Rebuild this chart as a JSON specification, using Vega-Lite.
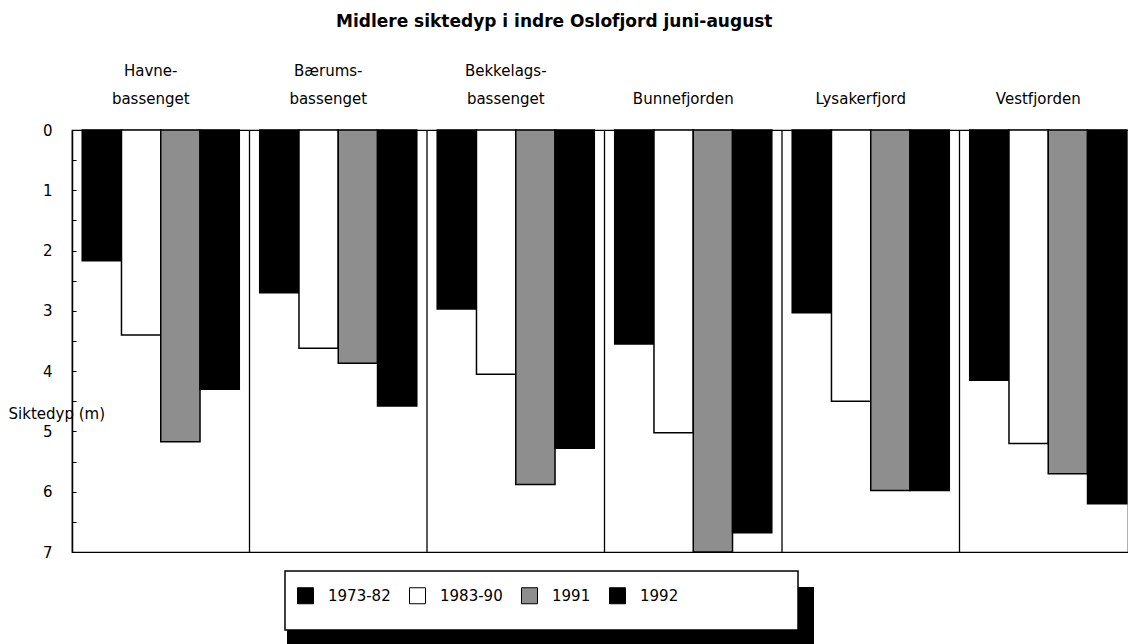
{
  "$schema": "https://vega.github.io/schema/vega-lite/v6.json",
  "autosize": {"type": "none"},
  "width": 1056,
  "height": 422,
  "padding": {"left": 72, "top": 130, "right": 0, "bottom": 92},
  "background": "white",
  "config": {
    "font": "DejaVu Sans",
    "view": {"stroke": "black", "strokeWidth": 1.2},
    "legend": {"gradientHorizontalMaxLength": 800, "gradientHorizontalMinLength": 10}
  },
  "title": {
    "text": "Midlere siktedyp i indre Oslofjord juni-august",
    "anchor": "start",
    "frame": "group",
    "dx": 264,
    "offset": 32,
    "fontSize": 17,
    "font": "DejaVu Sans",
    "fontWeight": "bold",
    "color": "black"
  },
  "datasets": {
    "bars": [
      {"group": "Havne-bassenget", "series": "1973-82", "depth": 2.17, "k": 1, "w": 1},
      {"group": "Havne-bassenget", "series": "1983-90", "depth": 3.4, "k": 1, "w": 1},
      {"group": "Havne-bassenget", "series": "1991", "depth": 5.17, "k": 1, "w": 1},
      {"group": "Havne-bassenget", "series": "1992", "depth": 4.3, "k": 1, "w": 1},
      {"group": "Bærums-bassenget", "series": "1973-82", "depth": 2.7, "k": 1, "w": 1},
      {"group": "Bærums-bassenget", "series": "1983-90", "depth": 3.62, "k": 1, "w": 1},
      {"group": "Bærums-bassenget", "series": "1991", "depth": 3.87, "k": 1, "w": 1},
      {"group": "Bærums-bassenget", "series": "1992", "depth": 4.58, "k": 1, "w": 1},
      {"group": "Bekkelags-bassenget", "series": "1973-82", "depth": 2.97, "k": 1, "w": 1},
      {"group": "Bekkelags-bassenget", "series": "1983-90", "depth": 4.05, "k": 1, "w": 1},
      {"group": "Bekkelags-bassenget", "series": "1991", "depth": 5.88, "k": 1, "w": 1},
      {"group": "Bekkelags-bassenget", "series": "1992", "depth": 5.28, "k": 1, "w": 1},
      {"group": "Bunnefjorden", "series": "1973-82", "depth": 3.55, "k": 1, "w": 1},
      {"group": "Bunnefjorden", "series": "1983-90", "depth": 5.02, "k": 1, "w": 1},
      {"group": "Bunnefjorden", "series": "1991", "depth": 7.0, "k": 1, "w": 1},
      {"group": "Bunnefjorden", "series": "1992", "depth": 6.68, "k": 1, "w": 1},
      {"group": "Lysakerfjord", "series": "1973-82", "depth": 3.03, "k": 1, "w": 1},
      {"group": "Lysakerfjord", "series": "1983-90", "depth": 4.5, "k": 1, "w": 1},
      {"group": "Lysakerfjord", "series": "1991", "depth": 5.98, "k": 1, "w": 1},
      {"group": "Lysakerfjord", "series": "1992", "depth": 5.98, "k": 1, "w": 1},
      {"group": "Vestfjorden", "series": "1973-82", "depth": 4.15, "k": 1, "w": 1},
      {"group": "Vestfjorden", "series": "1983-90", "depth": 5.2, "k": 1, "w": 1},
      {"group": "Vestfjorden", "series": "1991", "depth": 5.7, "k": 1, "w": 1},
      {"group": "Vestfjorden", "series": "1992", "depth": 6.2, "k": 1, "w": 1}
    ],
    "separators": [
      {"group": "Bærums-bassenget"},
      {"group": "Bekkelags-bassenget"},
      {"group": "Bunnefjorden"},
      {"group": "Lysakerfjord"},
      {"group": "Vestfjorden"}
    ]
  },
  "layer": [
    {
      "data": {"name": "separators"},
      "mark": {"type": "rule", "stroke": "black", "strokeWidth": 1.3},
      "encoding": {
        "x": {
          "field": "group",
          "type": "nominal",
          "bandPosition": 0,
          "sort": ["Havne-bassenget", "Bærums-bassenget", "Bekkelags-bassenget", "Bunnefjorden", "Lysakerfjord", "Vestfjorden"],
          "scale": {"domain": ["Havne-bassenget", "Bærums-bassenget", "Bekkelags-bassenget", "Bunnefjorden", "Lysakerfjord", "Vestfjorden"], "range": [0, 1065], "paddingInner": 0, "paddingOuter": 0},
          "axis": {
            "orient": "top", "title": null, "ticks": false, "domain": false,
            "labelAngle": 0, "labelFontSize": 15, "labelColor": "black", "labelBaseline": "top",
            "labelPadding": 67, "labelLineHeight": 28, "labelOffset": -10,
            "labelExpr": "indexof(datum.label, '-') > 0 ? [substring(datum.label, 0, indexof(datum.label, '-') + 1), substring(datum.label, indexof(datum.label, '-') + 1)] : ['', datum.label]"
          }
        }
      }
    },
    {
      "data": {"name": "bars"},
      "mark": {"type": "text", "text": ""},
      "encoding": {
        "color": {
          "field": "w", "type": "quantitative",
          "scale": {"domain": [0, 3], "range": ["white", "white"]},
          "legend": {
            "orient": "none", "legendX": 213, "legendY": 441, "direction": "horizontal",
            "title": null, "padding": 0, "gradientLength": 513, "gradientThickness": 59,
            "gradientStrokeColor": "black", "gradientStrokeWidth": 1.5,
            "labelOpacity": 0, "labelExpr": "''", "zindex": 1
          }
        }
      }
    },
    {
      "data": {"name": "bars"},
      "mark": {"type": "bar", "strokeWidth": 1.5},
      "encoding": {
        "x": {
          "field": "group",
          "type": "nominal",
          "sort": ["Havne-bassenget", "Bærums-bassenget", "Bekkelags-bassenget", "Bunnefjorden", "Lysakerfjord", "Vestfjorden"],
          "scale": {"domain": ["Havne-bassenget", "Bærums-bassenget", "Bekkelags-bassenget", "Bunnefjorden", "Lysakerfjord", "Vestfjorden"], "range": [0, 1065], "paddingInner": 0, "paddingOuter": 0},
          "axis": {
            "orient": "top", "title": null, "ticks": false, "domain": false,
            "labelAngle": 0, "labelFontSize": 15, "labelColor": "black", "labelBaseline": "top",
            "labelPadding": 67, "labelLineHeight": 28, "labelOffset": -10,
            "labelExpr": "indexof(datum.label, '-') > 0 ? [substring(datum.label, 0, indexof(datum.label, '-') + 1), substring(datum.label, indexof(datum.label, '-') + 1)] : ['', datum.label]"
          }
        },
        "xOffset": {
          "field": "series", "type": "nominal",
          "sort": ["1973-82", "1983-90", "1991", "1992"],
          "scale": {"paddingInner": 0, "paddingOuter": 0.26}
        },
        "y": {
          "field": "depth", "type": "quantitative",
          "scale": {"domain": [0, 7], "reverse": true, "nice": false, "zero": true},
          "axis": {
            "title": "Siktedyp (m)", "titleAngle": 0, "titleAlign": "left", "titleBaseline": "middle",
            "titleX": -64, "titleY": 283, "titleFontSize": 15, "titleFontWeight": "normal", "titleColor": "black", "titleFont": "DejaVu Sans",
            "values": [0, 0.5, 1, 1.5, 2, 2.5, 3, 3.5, 4, 4.5, 5, 5.5, 6, 6.5, 7],
            "labelExpr": "datum.value % 1 == 0 ? format(datum.value, 'd') : ''",
            "labelOverlap": false, "labelFontSize": 15, "labelColor": "black", "labelPadding": 24,
            "grid": false, "ticks": true, "tickSize": -4, "tickColor": "black",
            "domain": true, "domainColor": "black", "domainWidth": 1.5
          }
        },
        "fill": {
          "field": "series", "type": "nominal",
          "sort": ["1973-82", "1983-90", "1991", "1992"],
          "scale": {"domain": ["1973-82", "1983-90", "1991", "1992"], "range": ["#000000", "#ffffff", "#8e8e8e", "#000000"]},
          "legend": {
            "orient": "none", "legendX": 225, "legendY": 457, "direction": "horizontal",
            "title": null, "padding": 0, "symbolType": "square", "symbolSize": 256,
            "symbolStrokeColor": "black", "symbolStrokeWidth": 1, "labelFontSize": 15, "labelColor": "black",
            "labelOffset": 14, "columnPadding": 16, "zindex": 2
          }
        },
        "stroke": {
          "field": "k", "type": "quantitative",
          "scale": {"domain": [0, 1], "range": ["black", "black"]},
          "legend": {
            "orient": "none", "legendX": 215, "legendY": 457, "direction": "horizontal",
            "title": null, "padding": 0, "gradientLength": 527, "gradientThickness": 70,
            "gradientStrokeWidth": 0, "labelOpacity": 0, "labelExpr": "''", "zindex": 0
          }
        }
      }
    }
  ]
}
